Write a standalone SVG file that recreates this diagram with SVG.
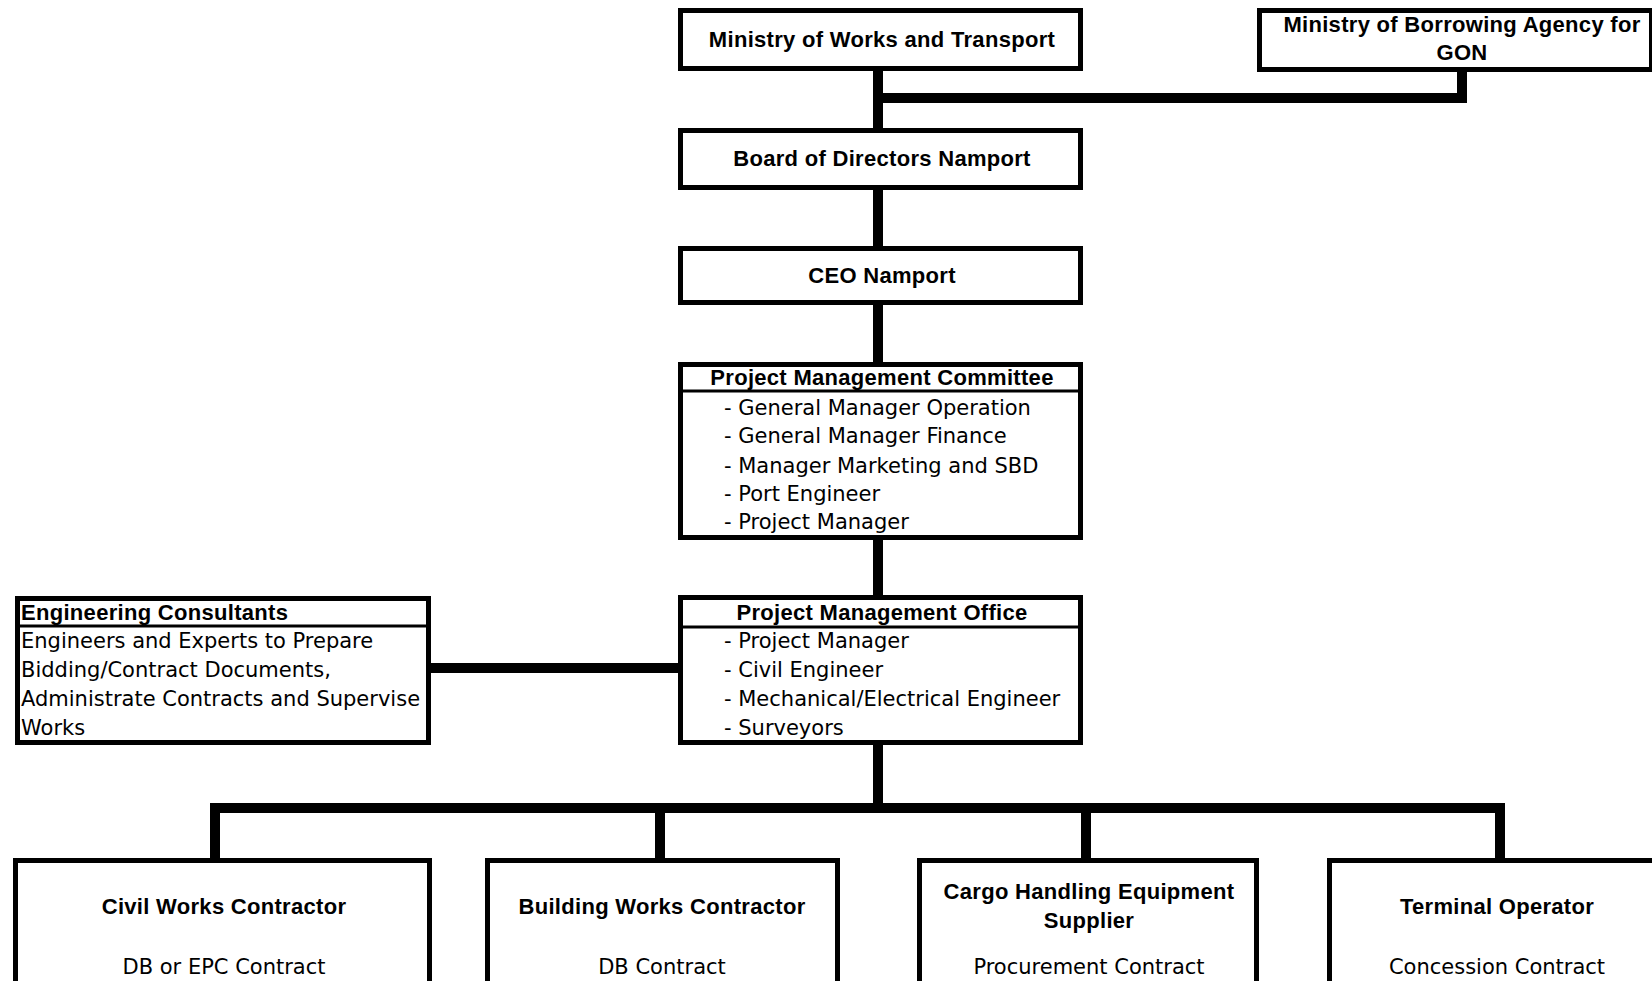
<svg xmlns="http://www.w3.org/2000/svg" width="1652" height="981" viewBox="0 0 1652 981">
<style>
.box{fill:#fff;stroke:#000;stroke-width:5}
.div{stroke:#000;stroke-width:3}
.con{fill:none;stroke:#000;stroke-width:10;stroke-linejoin:miter;stroke-linecap:butt}
text{font-family:"DejaVu Sans","Liberation Sans",Arial,sans-serif;font-size:21px;fill:#000}
.b{font-family:"Liberation Sans",Arial,sans-serif;font-weight:bold;font-size:22px;letter-spacing:0.3px}
.c{text-anchor:middle}
</style>
<rect width="1652" height="981" fill="#fff"/>
<g id="connectors">
<path class="con" d="M878 71V128"/>
<path class="con" d="M873 98H1462V71"/>
<path class="con" d="M878 190V246"/>
<path class="con" d="M878 305V362"/>
<path class="con" d="M878 540V595"/>
<path class="con" d="M431 668H678"/>
<path class="con" d="M878 745V808"/>
<path class="con" d="M215 860V808H1500V860"/>
<path class="con" d="M660 808V860"/>
<path class="con" d="M1086 808V860"/>
</g>
<g id="mwt">
<rect class="box" x="680.5" y="10.5" width="400" height="58"/>
<text class="b c" x="882" y="47">Ministry of Works and Transport</text>
</g>
<g id="borrow">
<rect class="box" x="1259.5" y="10.5" width="392" height="59"/>
<text class="b c" x="1462" y="32">Ministry of Borrowing Agency for</text>
<text class="b c" x="1462" y="60">GON</text>
</g>
<g id="board">
<rect class="box" x="680.5" y="130.5" width="400" height="57"/>
<text class="b c" x="882" y="166">Board of Directors Namport</text>
</g>
<g id="ceo">
<rect class="box" x="680.5" y="248.5" width="400" height="54"/>
<text class="b c" x="882" y="283">CEO Namport</text>
</g>
<g id="pmc">
<rect class="box" x="680.5" y="364.5" width="400" height="173"/>
<line class="div" x1="680" y1="391" x2="1081" y2="391"/>
<text class="b c" x="882" y="385">Project Management Committee</text>
<text x="724" y="415">- General Manager Operation</text>
<text x="724" y="443">- General Manager Finance</text>
<text x="724" y="473">- Manager Marketing and SBD</text>
<text x="724" y="501">- Port Engineer</text>
<text x="724" y="529">- Project Manager</text>
</g>
<g id="pmo">
<rect class="box" x="680.5" y="597.5" width="400" height="145"/>
<line class="div" x1="680" y1="627" x2="1081" y2="627"/>
<text class="b c" x="882" y="620">Project Management Office</text>
<text x="724" y="648">- Project Manager</text>
<text x="724" y="677">- Civil Engineer</text>
<text x="724" y="706">- Mechanical/Electrical Engineer</text>
<text x="724" y="735">- Surveyors</text>
</g>
<g id="ec">
<rect class="box" x="17.5" y="598.5" width="411" height="144"/>
<line class="div" x1="17" y1="626" x2="429" y2="626"/>
<text class="b" x="21" y="620">Engineering Consultants</text>
<text x="21" y="648">Engineers and Experts to Prepare</text>
<text x="21" y="677">Bidding/Contract Documents,</text>
<text x="21" y="706">Administrate Contracts and Supervise</text>
<text x="21" y="735">Works</text>
</g>
<g id="civil">
<rect class="box" x="15.5" y="860.5" width="414" height="140"/>
<text class="b c" x="224" y="914">Civil Works Contractor</text>
<text class="c" x="224" y="974">DB or EPC Contract</text>
</g>
<g id="building">
<rect class="box" x="487.5" y="860.5" width="350" height="140"/>
<text class="b c" x="662" y="914">Building Works Contractor</text>
<text class="c" x="662" y="974">DB Contract</text>
</g>
<g id="cargo">
<rect class="box" x="919.5" y="860.5" width="337" height="140"/>
<text class="b c" x="1089" y="899">Cargo Handling Equipment</text>
<text class="b c" x="1089" y="928">Supplier</text>
<text class="c" x="1089" y="974">Procurement Contract</text>
</g>
<g id="terminal">
<rect class="box" x="1329.5" y="860.5" width="340" height="140"/>
<text class="b c" x="1497" y="914">Terminal Operator</text>
<text class="c" x="1497" y="974">Concession Contract</text>
</g>
</svg>
